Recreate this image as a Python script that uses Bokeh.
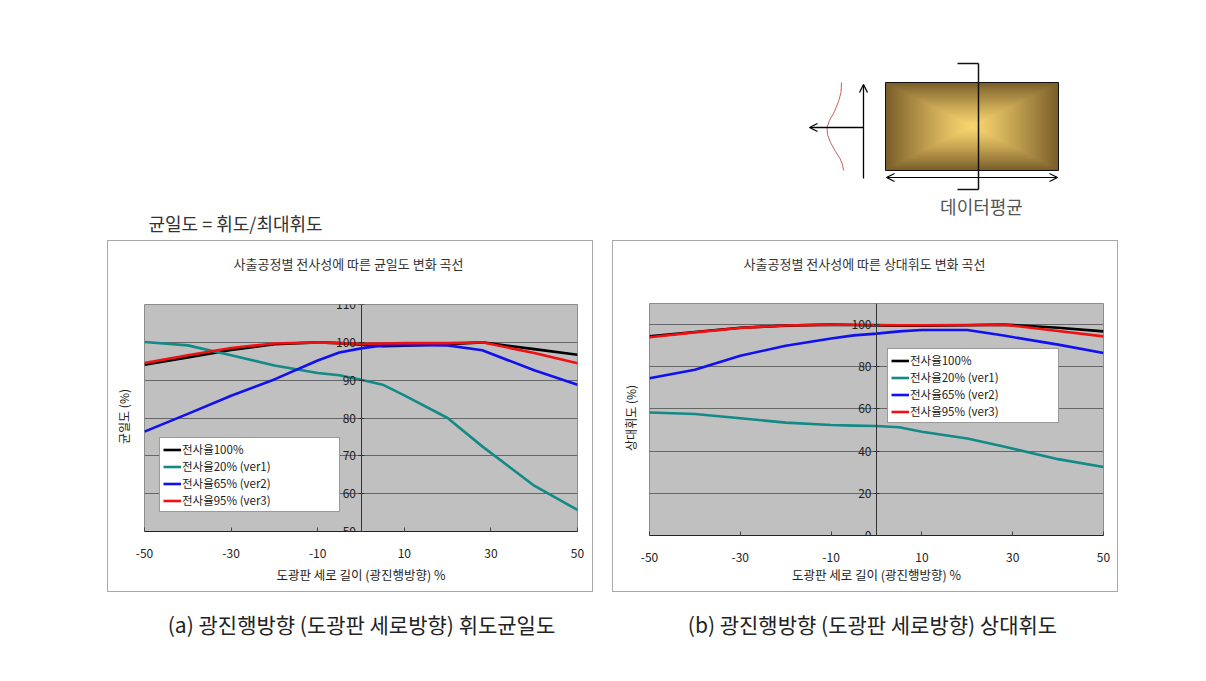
import numpy as np
from bokeh.plotting import figure
from bokeh.layouts import column, row
from bokeh.models import (Spacer, Range1d, Legend, LegendItem, FixedTicker,
                          Arrow, OpenHead)
from bokeh.embed import file_html
from bokeh.resources import INLINE
from bokeh.core.properties import value

FONT = "Noto Sans CJK KR"

# ---------------- data ----------------
x_pos = [-50, -40, -30, -20, -10, -5, 0, 5, 10, 20, 28, 40, 50]
series_names = ["전사율100%", "전사율20% (ver1)", "전사율65% (ver2)", "전사율95% (ver3)"]
series_colors = ["#000000", "#138a86", "#1010f0", "#f01010"]

# (a) 균일도 (%)
uni_100 = [94.1, 96.0, 98.0, 99.5, 100.0, 99.8, 99.4, 99.0, 99.1, 99.5, 100.0, 98.2, 96.7]
uni_20 = [100.1, 99.2, 96.6, 93.9, 91.9, 91.3, 90.1, 88.8, 86.0, 80.0, 72.5, 62.1, 55.7]
uni_65 = [76.4, 81.1, 85.9, 90.2, 95.2, 97.3, 98.4, 99.2, 99.3, 99.2, 97.9, 92.6, 88.8]
uni_95 = [94.5, 96.6, 98.5, 99.7, 100.0, 99.8, 99.6, 99.7, 99.8, 99.8, 100.0, 97.2, 94.5]

# (b) 상대휘도 (%)
rel_100 = [94.4, 96.5, 98.5, 99.5, 100.0, 99.8, 99.6, 99.5, 99.5, 99.7, 100.0, 98.5, 96.8]
rel_20 = [58.3, 57.6, 55.6, 53.5, 52.4, 52.1, 51.9, 51.3, 49.2, 46.0, 42.2, 36.2, 32.5]
rel_65 = [74.6, 78.6, 85.2, 90.0, 93.4, 94.9, 95.7, 96.8, 97.4, 97.4, 94.8, 90.5, 86.5]
rel_95 = [94.0, 96.3, 98.4, 99.6, 100.0, 99.9, 99.8, 99.7, 99.7, 99.8, 100.0, 97.0, 94.4]

x_ticks = [-50, -30, -10, 10, 30, 50]
x_tick_labels = ["-50", "-30", "-10", "10", "30", "50"]
uni_ticks = [50, 60, 70, 80, 90, 100, 110]
rel_ticks = [0, 20, 40, 60, 80, 100]

PANEL = "#a8a8a8"


def blank(w, h):
    f = figure(width=w, height=h, x_range=Range1d(0, w), y_range=Range1d(h, 0),
               output_backend="svg", toolbar_location=None, x_axis_type=None, y_axis_type=None,
               min_border=0, outline_line_color=None, background_fill_color="white",
               border_fill_color="white")
    f.grid.visible = False
    return f


# ---------------- charts ----------------
def make_chart(yrange, yticks, ys, width, borders, legend_loc, legend_w,
               tick_standoff, lab_standoff):
    bl, br, bt, bb = borders
    p = figure(width=width, height=298, x_range=Range1d(-50, 50), y_range=Range1d(*yrange),
               output_backend="svg", toolbar_location=None,
               min_border_left=bl, min_border_right=br, min_border_top=bt, min_border_bottom=bb,
               background_fill_color="#c0c0c0", border_fill_color="white",
               outline_line_color="#8c8c8c")

    p.xgrid.grid_line_color = None
    p.ygrid.grid_line_color = "#666666"
    p.ygrid.grid_line_width = 1

    xa = p.xaxis[0]
    xa.ticker = FixedTicker(ticks=x_ticks)
    xa.major_label_overrides = dict(zip(x_ticks, x_tick_labels))
    xa.axis_line_color = "#222222"
    xa.major_tick_in = 4
    xa.major_tick_out = 0
    xa.minor_tick_line_color = None
    xa.major_tick_line_color = "#444444"
    xa.major_label_standoff = tick_standoff
    xa.major_label_text_font = FONT
    xa.major_label_text_font_size = "12px"
    xa.major_label_text_color = "#222222"
    xa.axis_label = "도광판 세로 길이 (광진행방향) %"
    xa.axis_label_text_font = FONT
    xa.axis_label_text_font_size = "12.5px"
    xa.axis_label_text_font_style = "normal"
    xa.axis_label_text_color = "#222222"
    xa.axis_label_standoff = lab_standoff

    ya = p.yaxis[0]
    ya.fixed_location = 0
    ya.ticker = FixedTicker(ticks=yticks)
    ya.axis_line_color = "#333333"
    ya.major_tick_in = 3
    ya.major_tick_out = 3
    ya.minor_tick_line_color = None
    ya.major_tick_line_color = "#333333"
    ya.major_label_standoff = 2
    ya.major_label_text_font = FONT
    ya.major_label_text_font_size = "12px"
    ya.major_label_text_color = "#222222"

    items = []
    for name, col, yv in zip(series_names, series_colors, ys):
        r = p.line(x_pos, yv, line_color=col, line_width=2.6, line_join="round")
        items.append(LegendItem(label=name, renderers=[r]))

    leg = Legend(items=items, location=legend_loc, margin=0, padding=3, spacing=1,
                 glyph_width=18, glyph_height=13, label_height=13, label_standoff=1,
                 label_width=legend_w - 6 - 18 - 1,
                 label_text_font=FONT, label_text_font_size="11.5px", label_text_color="#222222",
                 background_fill_color="white", background_fill_alpha=1,
                 border_line_color="#333333", border_line_width=1)
    p.add_layout(leg)
    return p


def panel(title, title_x, ylabel, ylabel_x, chart, w):
    side = dict(styles={"background-color": PANEL}, margin=0)
    tf = blank(w, 52)
    tf.text(x=[title_x], y=[22], text=[title], text_font=value(FONT), text_font_size="13px",
            text_align="center", text_baseline="middle", text_color="#333333")
    yf = blank(25, 298)
    yf.text(x=[ylabel_x], y=[147], text=[ylabel], text_font=value(FONT), text_font_size="12px",
            text_align="center", text_baseline="middle", text_color="#222222", angle=np.pi / 2)
    inner = column(Spacer(width=w, height=1, **side), tf, row(yf, chart),
                   Spacer(width=w, height=1, **side))
    return row(Spacer(width=1, height=352, **side), inner, Spacer(width=1, height=352, **side))


pa = make_chart((50, 110), uni_ticks, [uni_100, uni_20, uni_65, uni_95],
                459, (11, 15, 11, 60), (15, 19), 179, 17, 4)
pb = make_chart((0, 110), rel_ticks, [rel_100, rel_20, rel_65, rel_95],
                479, (11, 14, 10, 56), (238, 112), 170, 17, 0)

panel_a = panel("사출공정별 전사성에 따른 균일도 변화 곡선", 240, "균일도 (%)", 15, pa, 484)
panel_b = panel("사출공정별 전사성에 따른 상대휘도 변화 곡선", 251, "상대휘도 (%)", 17, pb, 504)

# ---------------- top decoration ----------------
top = blank(1206, 240)

top.text(x=[148], y=[222], text=["균일도 = 휘도/최대휘도"], text_font=value(FONT),
         text_font_size="18px", text_baseline="middle", text_color="#333333")

# gradient panel
gh, gw = 88, 173
vv, uu = np.mgrid[-1:1:gh * 1j, -1:1:gw * 1j]
t = np.clip(np.maximum(np.abs(uu), np.abs(vv)), 0, 1) ** 1.2
c0 = np.array([250, 214, 112])
c1 = np.array([122, 94, 42])
img = np.empty((gh, gw), dtype=np.uint32)
view = img.view(dtype=np.uint8).reshape((gh, gw, 4))
for k in range(3):
    view[:, :, k] = (c0[k] + (c1[k] - c0[k]) * t).astype(np.uint8)
view[:, :, 3] = 255
top.image_rgba(image=[img], x=885, y=82, dw=173, dh=88)
top.quad(left=[885], right=[1058], top=[82], bottom=[170], fill_color=None,
         line_color="#111111", line_width=1)

top.segment(x0=[978, 957, 957], y0=[63, 63, 189], x1=[978, 978, 978], y1=[189, 63, 189],
            line_color="#111111", line_width=1.5)

top.add_layout(Arrow(start=OpenHead(size=8, line_width=1.2), end=OpenHead(size=8, line_width=1.2),
                     x_start=886, y_start=177, x_end=1057, y_end=177, line_width=1.2))
top.add_layout(Arrow(end=OpenHead(size=8, line_width=1.3), x_start=863, y_start=178,
                     x_end=863, y_end=84, line_width=1.3))
top.add_layout(Arrow(end=OpenHead(size=8, line_width=1.3), x_start=863, y_start=127,
                     x_end=809, y_end=127, line_width=1.3))

curve_x = [841, 840.5, 838, 834, 829, 826.5, 827, 830, 835, 839.5, 842, 843]
curve_y = [82, 92, 101, 111, 120, 127, 134, 142, 151, 158, 164, 170]
top.line(curve_x, curve_y, line_color="#c86060", line_width=1)

top.text(x=[981], y=[205], text=["데이터평균"], text_font=value(FONT), text_font_size="18px",
         text_align="center", text_baseline="middle", text_color="#555555")

# ---------------- bottom captions ----------------
bot = figure(width=1206, height=89, x_range=Range1d(0, 1206), y_range=Range1d(681, 592),
             output_backend="svg", toolbar_location=None, x_axis_type=None, y_axis_type=None,
             min_border=0, outline_line_color=None, background_fill_color="white")
bot.grid.visible = False
bot.text(x=[361, 872], y=[623, 623],
         text=["(a) 광진행방향 (도광판 세로방향) 휘도균일도", "(b) 광진행방향 (도광판 세로방향) 상대휘도"],
         text_font=value(FONT), text_font_size="21px", text_align="center",
         text_baseline="middle", text_color="#222222")

mid = row(Spacer(width=107, height=352), panel_a, Spacer(width=19, height=352),
          panel_b, Spacer(width=88, height=352))
layout = column(top, mid, bot)

open("out.html", "w").write(file_html(layout, INLINE))
